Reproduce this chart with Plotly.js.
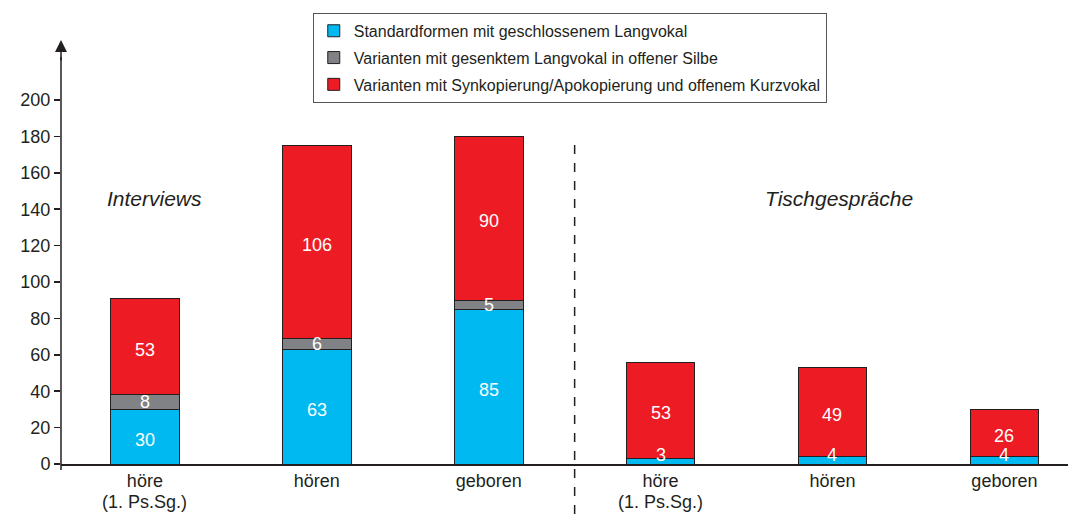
<!DOCTYPE html>
<html>
<head>
<meta charset="utf-8">
<script src="https://cdn.plot.ly/plotly-3.0.1.min.js"></script>
<style>html,body{margin:0;padding:0;background:#fff;}#chart{width:1068px;height:514px;}</style>
</head>
<body>
<div id="chart"></div>
<script>
// Data
var categories = [0, 1, 2, 3, 4, 5];
var tickLabels = ["höre", "hören", "geboren", "höre", "hören", "geboren"];
var tickSubLabels = ["(1. Ps.Sg.)", "", "", "(1. Ps.Sg.)", "", ""];
var standardValues = [30, 63, 85, 3, 4, 4];
var gesenktValues = [8, 6, 5, 0, 0, 0];
var synkopValues = [53, 106, 90, 53, 49, 26];
var seriesNames = [
  "Standardformen mit geschlossenem Langvokal",
  "Varianten mit gesenktem Langvokal in offener Silbe",
  "Varianten mit Synkopierung/Apokopierung und offenem Kurzvokal"
];
var groupLabels = ["Interviews", "Tischgespräche"];
var yTicks = [0, 20, 40, 60, 80, 100, 120, 140, 160, 180, 200];

var FONT = "Liberation Sans, Arial, Helvetica, sans-serif";
var DARK = "#231F20";
var colors = ["#00B9F1", "#808285", "#ED1C24"];

var seriesValues = [standardValues, gesenktValues, synkopValues];

var data = [];
seriesValues.forEach(function (vals, s) {
  data.push({
    type: "bar",
    x: categories,
    y: vals,
    name: seriesNames[s],
    legendgroup: "g" + s,
    marker: {color: colors[s], line: {color: DARK, width: 1}},
    width: 0.4,
    hoverinfo: "skip"
  });
});

var annotations = [
  {xref: "paper", yref: "paper", x: 0, y: 1, ax: 0, ay: 22, axref: "pixel", ayref: "pixel",
   showarrow: true, arrowhead: 2, arrowsize: 1.6, arrowwidth: 1.5, arrowcolor: DARK, text: ""},
  {xref: "x", yref: "y", x: 0.055, y: 146, text: "<i>" + groupLabels[0] + "</i>", showarrow: false,
   font: {family: FONT, size: 21, color: DARK}},
  {xref: "x", yref: "y", x: 4.04, y: 146, text: "<i>" + groupLabels[1] + "</i>", showarrow: false,
   font: {family: FONT, size: 21, color: DARK}}
];

// value labels drawn above all bars, at each segment's middle;
// a label on a thin segment at the axis is kept above the axis
seriesValues.forEach(function (vals, s) {
  vals.forEach(function (v, i) {
    if (v <= 0) return;
    var base = 0;
    for (var k = 0; k < s; k++) base += seriesValues[k][i];
    var ann = {xref: "x", yref: "y", x: categories[i], y: base + v / 2,
      yshift: v >= 10 ? -3 : 0, text: String(v), showarrow: false,
      font: {family: FONT, size: 18, color: "#ffffff"}};
    if (base === 0 && v < 10) {
      ann.y = 0; ann.yanchor = "bottom"; ann.yshift = -3;
    }
    annotations.push(ann);
  });
});

tickSubLabels.forEach(function (t, i) {
  if (!t) return;
  annotations.push({xref: "x", yref: "paper", x: categories[i], y: -0.089, yanchor: "middle",
    text: t, showarrow: false, font: {family: FONT, size: 18, color: DARK}});
});

var layout = {
  width: 1068,
  height: 514,
  margin: {l: 61, r: 0, t: 40, b: 50},
  paper_bgcolor: "#ffffff",
  plot_bgcolor: "#ffffff",
  barmode: "stack",
  font: {family: FONT, color: DARK},
  showlegend: true,
  legend: {
    x: 0.250, xanchor: "left",
    y: 1.064, yanchor: "top",
    bgcolor: "#ffffff",
    bordercolor: "#555555",
    borderwidth: 1,
    font: {family: FONT, size: 16, color: DARK},
    traceorder: "grouped",
    tracegroupgap: 3
  },
  xaxis: {
    range: [-0.488, 5.37],
    tickmode: "array",
    tickvals: categories,
    ticktext: tickLabels,
    ticks: "",
    showgrid: false,
    zeroline: false,
    showline: true,
    linecolor: DARK,
    linewidth: 1.5,
    tickfont: {family: FONT, size: 18, color: DARK},
    fixedrange: true
  },
  yaxis: {
    range: [0, 233],
    tickmode: "array",
    tickvals: yTicks,
    ticks: "outside",
    ticklen: 6,
    tickwidth: 1.5,
    tickcolor: DARK,
    showgrid: false,
    zeroline: false,
    showline: false,
    tickfont: {family: FONT, size: 18, color: DARK},
    fixedrange: true
  },
  shapes: [
    {type: "line", xref: "paper", yref: "paper", x0: 0, x1: 0, y0: -0.014, y1: 0.96,
     line: {color: DARK, width: 1.5}},
    {type: "line", xref: "x", yref: "paper", x0: 2.5, x1: 2.5, y0: -0.118, y1: 0.77,
     line: {color: DARK, width: 1.5, dash: "dash"}}
  ],
  annotations: annotations
};

Plotly.newPlot("chart", data, layout, {displayModeBar: false, staticPlot: true});
</script>
</body>
</html>
